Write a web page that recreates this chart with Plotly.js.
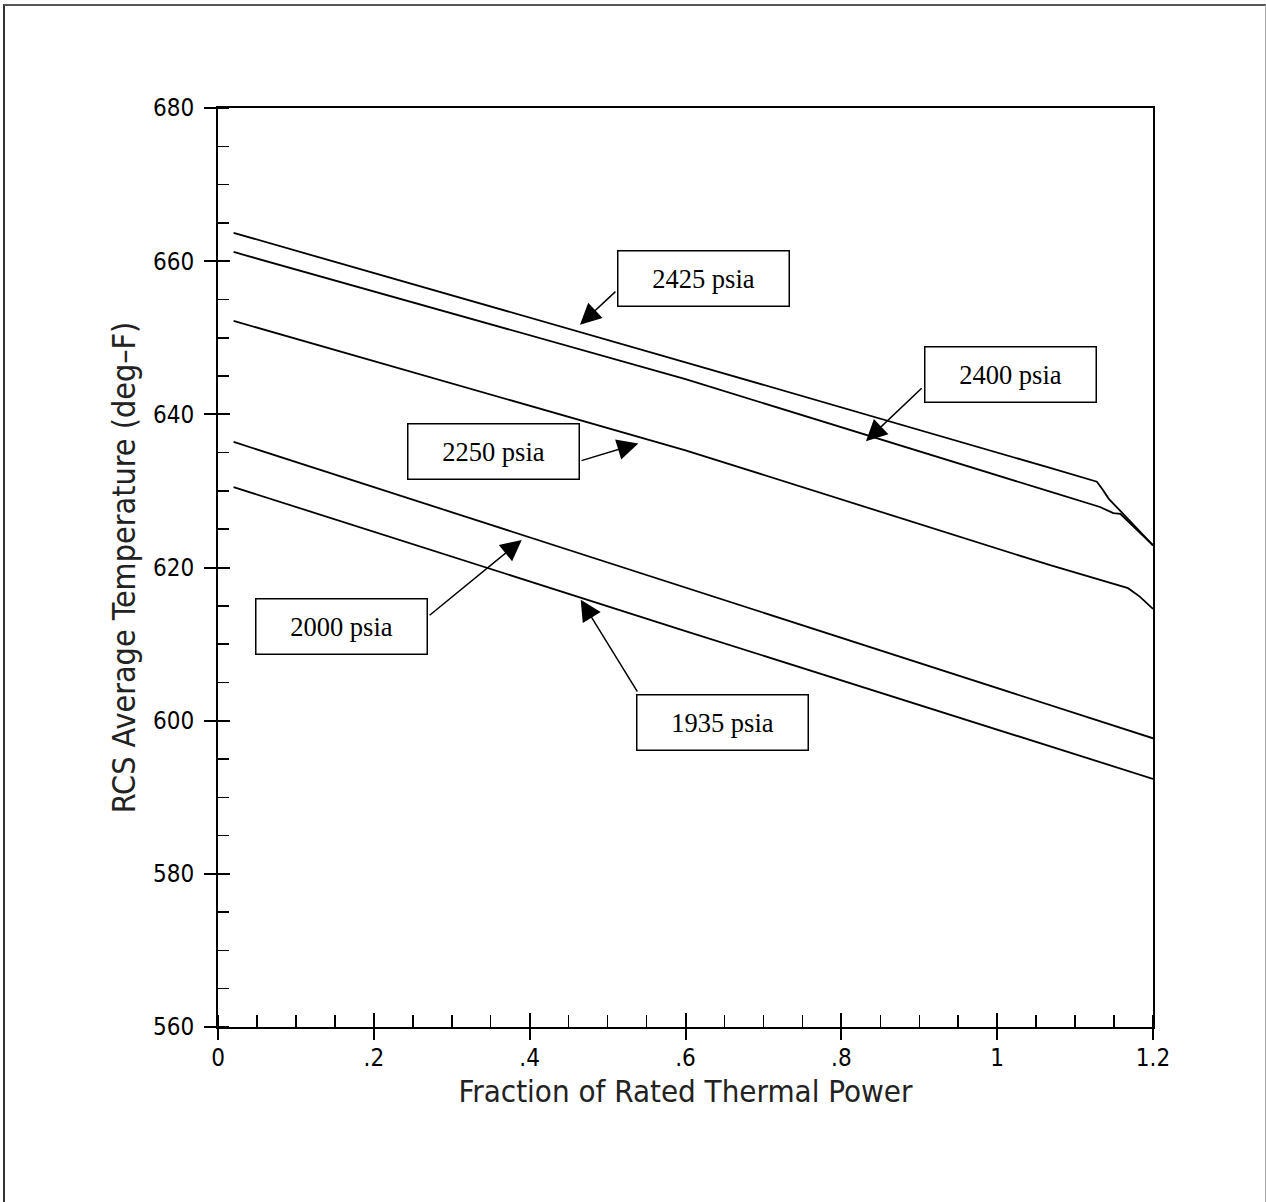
<!DOCTYPE html>
<html>
<head>
<meta charset="utf-8">
<script src="https://cdn.plot.ly/plotly-3.0.1.min.js"></script>
<style>
  html, body { margin: 0; padding: 0; background: #fff; }
  #frame { position: absolute; left: 3px; top: 4px; width: 1260px; height: 1200px;
           border-left: 2px solid #333; border-top: 2px solid #555; border-right: 1px solid #aaa; }
  #chart { position: absolute; left: 0; top: 0; width: 1266px; height: 1202px; }
</style>
</head>
<body>
<div id="frame"></div>
<div id="chart"></div>
<script>
// ---- data ----
const x2425 = [0.02, 0.6, 1.068, 1.128, 1.136, 1.143, 1.2];
const y2425 = [663.7, 646.8, 633.0, 631.2, 630.1, 629.0, 622.9];

const x2400 = [0.02, 0.6, 1.068, 1.108, 1.132, 1.149, 1.158, 1.2];
const y2400 = [661.2, 644.6, 629.9, 628.7, 627.9, 627.1, 627.0, 622.9];

const x2250 = [0.02, 0.6, 1.068, 1.168, 1.183, 1.2];
const y2250 = [652.2, 635.3, 620.3, 617.3, 616.2, 614.6];

const x2000 = [0.02, 0.6, 1.2];
const y2000 = [636.4, 617.4, 597.7];

const x1935 = [0.02, 0.6, 1.2];
const y1935 = [630.5, 611.7, 592.4];

const seriesNames = ["2425 psia", "2400 psia", "2250 psia", "2000 psia", "1935 psia"];

const xTickVals = [0, 0.2, 0.4, 0.6, 0.8, 1.0, 1.2];
const xTickText = ["0", ".2", ".4", ".6", ".8", "1", "1.2"];
const yTickVals = [560, 580, 600, 620, 640, 660, 680];
const yTickText = ["560", "580", "600", "620", "640", "660", "680"];

// label boxes (center) and arrow tail -> tip, in data units
const labelPos = [[0.6231, 657.7], [1.0171, 645.2], [0.3542, 635.1], [0.1579, 612.3], [0.6481, 599.8]];
const arrowTail = [[0.512, 656.2], [0.905, 643.6], [0.4646, 633.9], [0.2697, 613.6], [0.5394, 603.6]];
const arrowTip  = [[0.4646, 651.7], [0.8316, 636.5], [0.5394, 636.2], [0.3898, 623.6], [0.4655, 615.8]];

// ---- chart ----
const sans = "'Liberation Sans Narrow', 'DejaVu Sans Condensed', 'Roboto Condensed', 'DejaVu Sans', sans-serif";
const serif = "'Liberation Serif', 'DejaVu Serif', serif";
const xs = [x2425, x2400, x2250, x2000, x1935];
const ys = [y2425, y2400, y2250, y2000, y1935];

const traces = xs.map((x, i) => ({
  type: 'scatter', mode: 'lines', x: x, y: ys[i], name: seriesNames[i],
  line: { color: '#000', width: 1.8 }, hoverinfo: 'skip', showlegend: false
}));
traces.push({ type: 'scatter', mode: 'lines', x: [], y: [], xaxis: 'x2', yaxis: 'y2', showlegend: false, hoverinfo: 'skip' });

const annotations = [];
seriesNames.forEach((name, i) => {
  annotations.push({
    xref: 'x', yref: 'y', axref: 'x', ayref: 'y',
    x: arrowTip[i][0], y: arrowTip[i][1], ax: arrowTail[i][0], ay: arrowTail[i][1],
    text: '', showarrow: true, arrowhead: 2, arrowsize: 2.8, arrowwidth: 1.5, arrowcolor: '#000', standoff: 0
  });
  annotations.push({
    xref: 'x', yref: 'y', x: labelPos[i][0], y: labelPos[i][1],
    text: name, showarrow: false, font: { family: serif, size: 26.5, color: '#000' },
    bgcolor: '#fff', bordercolor: '#000', borderwidth: 1.5, borderpad: 0,
    width: 170, height: 54, xanchor: 'center', yanchor: 'middle'
  });
});

const layout = {
  width: 1266, height: 1202,
  margin: { l: 218, r: 113, t: 108, b: 175 },
  paper_bgcolor: 'rgba(0,0,0,0)', plot_bgcolor: '#fff',
  showlegend: false,
  font: { family: sans, color: '#000' },
  xaxis: {
    range: [0, 1.2], showline: true, linecolor: '#000', linewidth: 2, mirror: true,
    showgrid: false, zeroline: false,
    tickmode: 'array', tickvals: xTickVals, ticktext: xTickText,
    ticks: 'outside', ticklen: 11, tickwidth: 2, tickcolor: '#000',
    tickfont: { family: sans, size: 24, color: '#000' }, ticklabelstandoff: -3,
    minor: { tickmode: 'linear', tick0: 0, dtick: 0.05, ticks: 'inside', ticklen: 12, tickwidth: 1.5, tickcolor: '#000', showgrid: false },
    title: { text: 'Fraction of Rated Thermal Power', font: { family: sans, size: 31, color: '#222' }, standoff: 10 },
    automargin: false
  },
  xaxis2: {
    overlaying: 'x', matches: 'x', anchor: 'y', side: 'bottom', range: [0, 1.2],
    showline: false, showgrid: false, zeroline: false,
    tickmode: 'array', tickvals: xTickVals, ticks: 'inside', ticklen: 14, tickwidth: 2, tickcolor: '#000',
    showticklabels: false
  },
  yaxis: {
    range: [560, 680], showline: true, linecolor: '#000', linewidth: 2, mirror: true,
    showgrid: false, zeroline: false,
    tickmode: 'array', tickvals: yTickVals, ticktext: yTickText,
    ticks: 'outside', ticklen: 12, tickwidth: 2, tickcolor: '#000',
    tickfont: { family: sans, size: 24, color: '#000' }, ticklabelstandoff: 5,
    minor: { tickmode: 'linear', tick0: 560, dtick: 5, ticks: 'inside', ticklen: 11, tickwidth: 1.5, tickcolor: '#000', showgrid: false },
    title: { text: 'RCS Average Temperature (deg–F)', font: { family: sans, size: 32, color: '#222' }, standoff: 8 },
    automargin: false
  },
  yaxis2: {
    overlaying: 'y', matches: 'y', anchor: 'x', side: 'left', range: [560, 680],
    showline: false, showgrid: false, zeroline: false,
    tickmode: 'array', tickvals: yTickVals, ticks: 'inside', ticklen: 12, tickwidth: 2, tickcolor: '#000',
    showticklabels: false
  },
  annotations: annotations
};

Plotly.newPlot('chart', traces, layout, { staticPlot: true });
</script>
</body>
</html>
